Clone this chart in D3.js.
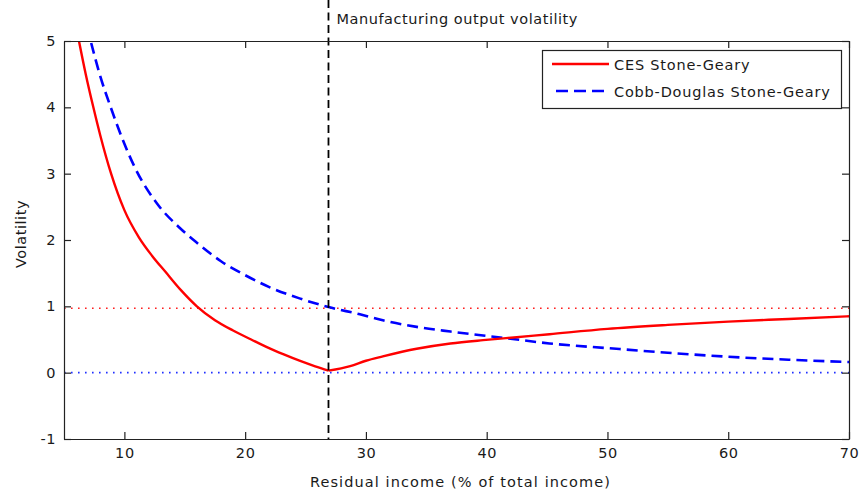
<!DOCTYPE html>
<html>
<head>
<meta charset="utf-8">
<script src="https://cdn.jsdelivr.net/npm/d3@7"></script>
<style>
  html, body { margin: 0; padding: 0; background: #fff; }
  svg text { font-family: "DejaVu Sans", "Liberation Sans", Arial, sans-serif; fill: #1a1a1a; }
</style>
</head>
<body>
<svg id="chart" width="860" height="493"></svg>
<script>
// Residual income (% of total income) and volatility for each model
const cesX = [6.24, 6.8, 7.43, 8.0, 8.9, 10.0, 11.2, 12.3, 13.4, 14.7, 16.0, 17.5, 19.0, 20.5, 21.8, 23.2, 24.5, 25.8, 26.9, 28.7, 30.0, 31.4, 34.2, 37.0, 39.7, 41.6, 45.2, 50.0, 55.0, 60.0, 65.0, 70.0];
const cesY = [5.0, 4.5, 4.0, 3.58, 3.0, 2.45, 2.04, 1.76, 1.52, 1.24, 1.0, 0.79, 0.635, 0.5, 0.385, 0.275, 0.18, 0.095, 0.03, 0.10, 0.18, 0.245, 0.36, 0.44, 0.49, 0.52, 0.58, 0.66, 0.72, 0.77, 0.81, 0.85];

const cdX = [7.25, 8.0, 8.87, 10.0, 10.93, 12.7, 14.66, 16.0, 18.0, 20.0, 22.0, 24.5, 26.9, 29.5, 31.4, 34.2, 37.0, 39.7, 41.6, 45.2, 50.0, 55.0, 60.0, 65.0, 70.0];
const cdY = [4.97, 4.47, 4.0, 3.45, 3.07, 2.55, 2.17, 1.96, 1.68, 1.47, 1.29, 1.12, 0.99, 0.88, 0.79, 0.69, 0.62, 0.56, 0.52, 0.44, 0.37, 0.30, 0.24, 0.195, 0.16];

const seriesNames = ["CES Stone-Geary", "Cobb-Douglas Stone-Geary"];
const xTicks = [10, 20, 30, 40, 50, 60, 70];
const yTicks = [-1, 0, 1, 2, 3, 4, 5];
const xDomain = [5, 70];
const yDomain = [-1, 5];

// Reference levels
const markerX = 26.9;          // manufacturing output volatility
const redLevel = 0.97;
const blueLevel = 0;
const markerLabel = "Manufacturing output volatility";
const xLabel = "Residual income (% of total income)";
const yLabel = "Volatility";

const svg = d3.select("#chart");
const m = { left: 64, right: 11, top: 41, bottom: 54 };
const W = 860, H = 493;
const x = d3.scaleLinear().domain(xDomain).range([m.left, W - m.right]);
const y = d3.scaleLinear().domain(yDomain).range([H - m.bottom, m.top]);

const FONT = 14.5;
const SPACING = 0.55;

svg.append("defs").append("clipPath").attr("id", "plotClip")
  .append("rect")
  .attr("x", x(xDomain[0])).attr("y", y(yDomain[1]))
  .attr("width", x(xDomain[1]) - x(xDomain[0]))
  .attr("height", y(yDomain[0]) - y(yDomain[1]));

const plot = svg.append("g").attr("clip-path", "url(#plotClip)");

// Dotted horizontal reference levels
plot.append("line")
  .attr("x1", x(xDomain[0])).attr("x2", x(xDomain[1]))
  .attr("y1", y(redLevel)).attr("y2", y(redLevel))
  .attr("stroke", "#ff2020").attr("stroke-width", 1.6)
  .attr("stroke-dasharray", "1.6,5.4");
plot.append("line")
  .attr("x1", x(xDomain[0])).attr("x2", x(xDomain[1]))
  .attr("y1", y(blueLevel)).attr("y2", y(blueLevel))
  .attr("stroke", "#2030ff").attr("stroke-width", 1.6)
  .attr("stroke-dasharray", "1.6,5.4");

const line = d3.line().x(d => x(d[0])).y(d => y(d[1])).curve(d3.curveMonotoneX);

const ces = cesX.map((v, i) => [v, cesY[i]]);
const cd = cdX.map((v, i) => [v, cdY[i]]);

plot.append("path").datum(cd)
  .attr("d", line)
  .attr("fill", "none").attr("stroke", "#0000ff")
  .attr("stroke-width", 2.6)
  .attr("stroke-dasharray", "11,6");

// The CES curve has a sharp minimum: draw each branch as its own smooth piece
const iMin = d3.minIndex(ces, d => d[1]);
[ces.slice(0, iMin + 1), ces.slice(iMin)].forEach(part => {
  plot.append("path").datum(part)
    .attr("d", line)
    .attr("fill", "none").attr("stroke", "#ff0000")
    .attr("stroke-width", 2.4)
    .attr("stroke-linejoin", "round");
});

// Vertical marker line, extending above the axes box
svg.append("line")
  .attr("x1", x(markerX)).attr("x2", x(markerX))
  .attr("y1", 0).attr("y2", y(yDomain[0]))
  .attr("stroke", "#000").attr("stroke-width", 1.8)
  .attr("stroke-dasharray", "8,4.5");

svg.append("text")
  .attr("x", x(markerX) + 8).attr("y", 24)
  .attr("font-size", FONT)
  .attr("letter-spacing", SPACING)
  .text(markerLabel);

// Axes box with inward ticks on every side
const tickLen = 7;
const styleAxis = g => {
  g.selectAll(".domain").attr("stroke", "#222").attr("stroke-width", 1.2);
  g.selectAll(".tick line").attr("stroke", "#222").attr("stroke-width", 1.2);
  g.selectAll(".tick text").attr("font-size", FONT).attr("letter-spacing", SPACING)
    .attr("font-family", "DejaVu Sans, Liberation Sans, Arial, sans-serif").attr("fill", "#1a1a1a");
};
const plain = d => String(d);

svg.append("g")
  .attr("transform", `translate(0,${y(yDomain[0])})`)
  .call(d3.axisBottom(x).tickValues(xTicks).tickFormat(plain).tickSizeInner(-tickLen).tickSizeOuter(0).tickPadding(9))
  .call(styleAxis);
svg.append("g")
  .attr("transform", `translate(0,${y(yDomain[1])})`)
  .call(d3.axisTop(x).tickValues(xTicks).tickSizeInner(-tickLen).tickSizeOuter(0).tickFormat(""))
  .call(styleAxis);
svg.append("g")
  .attr("transform", `translate(${x(xDomain[0])},0)`)
  .call(d3.axisLeft(y).tickValues(yTicks).tickFormat(plain).tickSizeInner(-tickLen).tickSizeOuter(0).tickPadding(8))
  .call(styleAxis);
svg.append("g")
  .attr("transform", `translate(${x(xDomain[1])},0)`)
  .call(d3.axisRight(y).tickValues(yTicks).tickSizeInner(-tickLen).tickSizeOuter(0).tickFormat(""))
  .call(styleAxis);

// Axis titles
svg.append("text")
  .attr("x", (x(xDomain[0]) + x(xDomain[1])) / 2 + 4)
  .attr("y", 487)
  .attr("text-anchor", "middle")
  .attr("font-size", FONT)
  .attr("letter-spacing", 1.1)
  .text(xLabel);

svg.append("text")
  .attr("transform", `translate(26,${(y(yDomain[0]) + y(yDomain[1])) / 2 - 6}) rotate(-90)`)
  .attr("text-anchor", "middle")
  .attr("font-size", FONT)
  .attr("letter-spacing", SPACING)
  .text(yLabel);

// Legend
const legend = svg.append("g");
legend.append("rect")
  .attr("x", 542.5).attr("y", 50.5).attr("width", 299).attr("height", 58)
  .attr("fill", "#fff").attr("stroke", "#222").attr("stroke-width", 1.2);
const legendRows = [
  { name: seriesNames[0], color: "#ff0000", dash: null, y: 64 },
  { name: seriesNames[1], color: "#0000ff", dash: "11,6", y: 91 }
];
legendRows.forEach(r => {
  legend.append("line")
    .attr("x1", 552).attr("x2", 609)
    .attr("y1", r.y).attr("y2", r.y)
    .attr("stroke", r.color).attr("stroke-width", 2.6)
    .attr("stroke-dasharray", r.dash ? "12,6" : null)
    .attr("stroke-dashoffset", r.dash ? -4 : null);
  legend.append("text")
    .attr("x", 614).attr("y", r.y + 6)
    .attr("font-size", FONT)
    .attr("letter-spacing", 0.8)
    .text(r.name);
});
</script>
</body>
</html>
